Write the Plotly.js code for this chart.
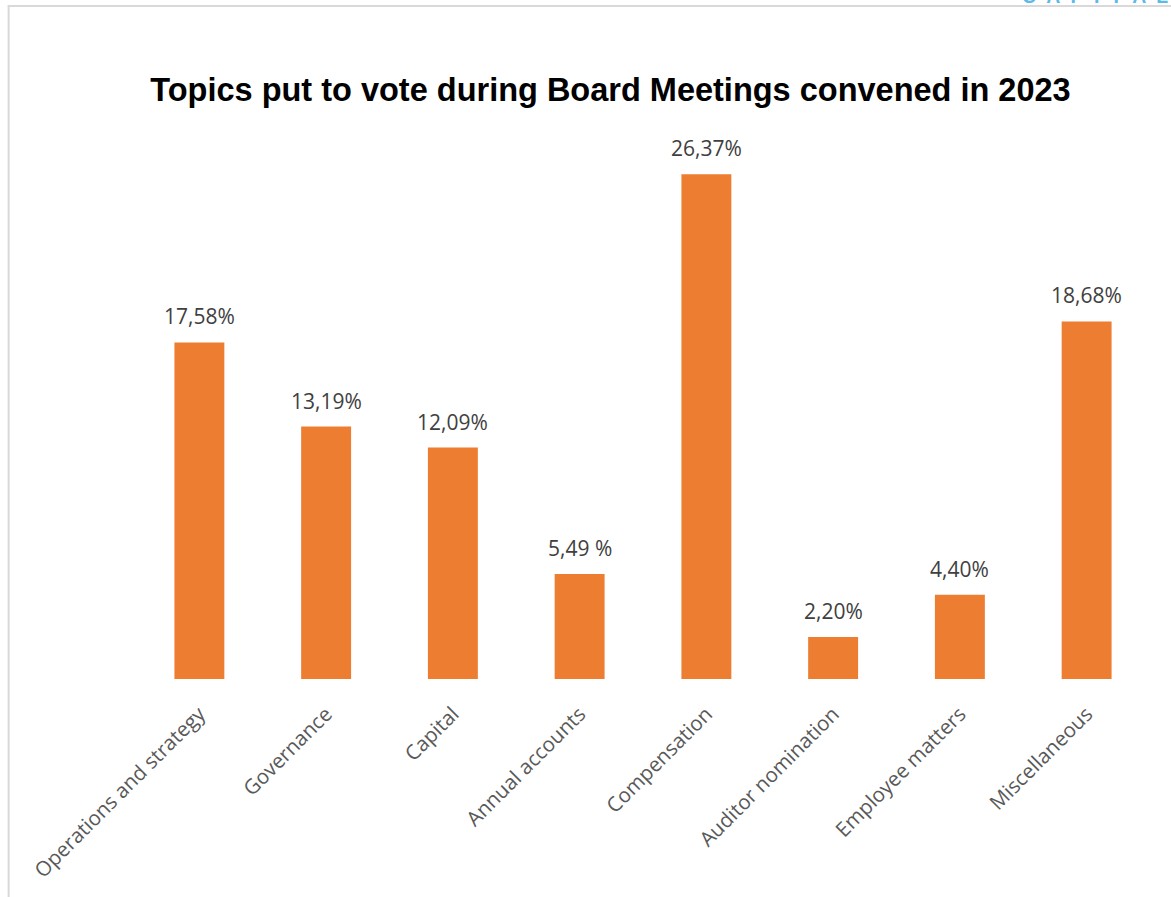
<!DOCTYPE html>
<html>
<head>
<meta charset="utf-8">
<script src="https://cdn.plot.ly/plotly-3.0.1.min.js"></script>
<style>html,body{margin:0;padding:0;background:#fff;}#chart{width:1171px;height:897px;}</style>
</head>
<body>
<div id="chart"></div>
<script>
const categories = ["Operations and strategy","Governance","Capital","Annual accounts","Compensation","Auditor nomination","Employee matters","Miscellaneous"];
const values = [17.58, 13.19, 12.09, 5.49, 26.37, 2.20, 4.40, 18.68];
const valueLabels = ["17,58%","13,19%","12,09%","5,49 %","26,37%","2,20%","4,40%","18,68%"];
const chartTitle = "Topics put to vote during Board Meetings convened in 2023";

const W = 1171, H = 897;
const mL = 135.5, mR = 20.5, mT = 143, mB = 218;
const pw = W - mL - mR, ph = H - mT - mB;
const px2x = p => (p - mL) / pw;
const py2y = p => (H - mB - p) / ph;

const trace = {
  type: 'bar',
  x: categories,
  y: values,
  marker: {color: '#ED7D31'},
  hoverinfo: 'x+y'
};

const annotations = categories.map((c, i) => ({
  x: c, y: values[i], xref: 'x', yref: 'y',
  text: valueLabels[i], showarrow: false,
  yanchor: 'bottom', yshift: 10,
  font: {family: 'Open Sans, sans-serif', size: 21, color: '#404040'}
}));
annotations.push({
  xref: 'paper', yref: 'paper', x: px2x(1020), y: py2y(9.5),
  xanchor: 'left', yanchor: 'bottom', showarrow: false,
  text: '<b>C  A  P  I  T  A  L</b>',
  font: {family: 'Liberation Sans, sans-serif', size: 19.5, color: '#5DB9EA'}
});

const layout = {
  width: W, height: H,
  margin: {l: mL, r: mR, t: mT, b: mB, pad: 0},
  paper_bgcolor: '#ffffff', plot_bgcolor: '#ffffff',
  title: {
    text: '<b>' + chartTitle + '</b>',
    x: 610.5 / W, xref: 'container', xanchor: 'center',
    y: 1 - 90 / H, yanchor: 'middle',
    font: {family: 'Liberation Sans, Arial, sans-serif', size: 32.5, color: '#000000'}
  },
  bargap: 0.606,
  showlegend: false,
  xaxis: {
    tickangle: -45,
    tickfont: {family: 'Open Sans, sans-serif', size: 20.5, color: '#595959'},
    showline: false, ticks: 'outside', ticklen: 14, tickcolor: 'rgba(0,0,0,0)',
    showgrid: false, zeroline: false,
    automargin: false
  },
  yaxis: {
    range: [0, 28], visible: false, showgrid: false, zeroline: false, fixedrange: true
  },
  annotations: annotations,
  shapes: [
    {type: 'line', xref: 'paper', yref: 'paper', x0: px2x(8), x1: px2x(8), y0: py2y(6), y1: py2y(H + 5), line: {color: '#D9D9D9', width: 2}},
    {type: 'line', xref: 'paper', yref: 'paper', x0: px2x(7), x1: px2x(W + 5), y0: py2y(6), y1: py2y(6), line: {color: '#D9D9D9', width: 2}}
  ]
};

Plotly.newPlot('chart', [trace], layout, {displayModeBar: false, responsive: false});
</script>
</body>
</html>
